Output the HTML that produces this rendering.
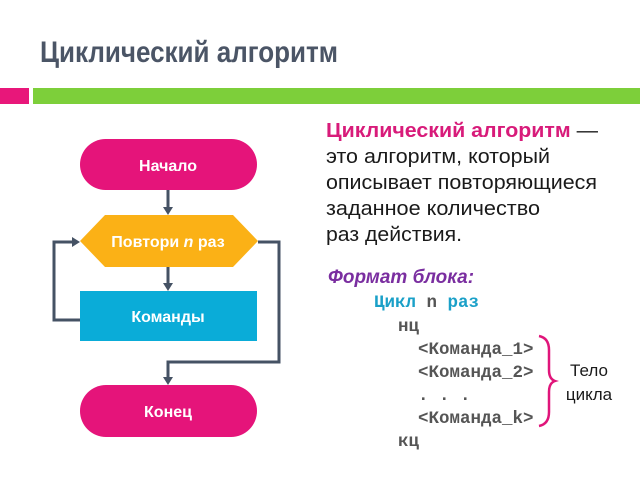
<!DOCTYPE html>
<html><head><meta charset="utf-8"><style>
body{margin:0;background:#fff;width:640px;height:480px;overflow:hidden}
</style></head><body>
<svg width="640" height="480" xmlns="http://www.w3.org/2000/svg" font-family="'Liberation Sans', sans-serif">
<text x="40" y="62" font-size="30" font-weight="bold" fill="#4b5566" textLength="298" lengthAdjust="spacingAndGlyphs">Циклический алгоритм</text>
<rect x="0" y="88" width="29" height="16" fill="#e8177a"/>
<rect x="33" y="88" width="607" height="16" fill="#7dcf3a"/>
<g stroke="#455264" stroke-width="3" fill="none">
<line x1="168" y1="190" x2="168" y2="210"/>
<line x1="168" y1="267" x2="168" y2="286"/>
<polyline points="80,320 54,320 54,242 74,242"/>
<polyline points="258,242 279,242 279,362 168,362 168,380"/>
</g>
<g fill="#455264">
<polygon points="163,207 173,207 168,215"/>
<polygon points="163,283 173,283 168,291"/>
<polygon points="72,237 72,247 80,242"/>
<polygon points="163,377 173,377 168,385"/>
</g>
<rect x="80" y="139" width="177" height="51" rx="25.5" fill="#e5147a"/>
<text x="168" y="171" font-size="16" font-weight="bold" fill="#fff" text-anchor="middle">Начало</text>
<polygon points="80,241 105,215 233,215 258,241 233,267 105,267" fill="#fbb116"/>
<text x="168" y="247" font-size="16" font-weight="bold" fill="#fff" text-anchor="middle">Повтори <tspan font-style="italic">n</tspan> раз</text>
<rect x="80" y="291" width="177" height="50" fill="#0aacd8"/>
<text x="168" y="322" font-size="16" font-weight="bold" fill="#fff" text-anchor="middle">Команды</text>
<rect x="80" y="385" width="177" height="52" rx="26" fill="#e5147a"/>
<text x="168" y="417" font-size="16" font-weight="bold" fill="#fff" text-anchor="middle">Конец</text>
<g font-size="20" fill="#1a1a1a" lengthAdjust="spacingAndGlyphs">
<text x="326" y="137" textLength="272" lengthAdjust="spacingAndGlyphs"><tspan fill="#d81b7a" font-weight="bold">Циклический алгоритм</tspan> —</text>
<text x="326" y="163" textLength="224" lengthAdjust="spacingAndGlyphs">это алгоритм, который</text>
<text x="326" y="189" textLength="271" lengthAdjust="spacingAndGlyphs">описывает повторяющиеся</text>
<text x="326" y="215" textLength="214" lengthAdjust="spacingAndGlyphs">заданное количество</text>
<text x="326" y="241" textLength="136" lengthAdjust="spacingAndGlyphs">раз действия.</text>
</g>
<text x="328" y="283" font-size="19" font-weight="bold" font-style="italic" fill="#7a2ea0">Формат блока:</text>
<g font-family="'Liberation Mono', monospace" font-size="17.5" font-weight="bold" fill="#555">
<text x="374" y="307"><tspan fill="#1aa0c8">Цикл</tspan> n <tspan fill="#1aa0c8">раз</tspan></text>
<text x="398" y="331">нц</text>
<text x="418" y="354">&lt;Команда_1&gt;</text>
<text x="418" y="377">&lt;Команда_2&gt;</text>
<text x="418" y="400">. . .</text>
<text x="418" y="423">&lt;Команда_k&gt;</text>
<text x="398" y="446">кц</text>
</g>
<path d="M539,336 Q549,338 549,350 L549,370 Q549,379 555,381 Q549,383 549,392 L549,412 Q549,424 539,426" stroke="#e0157a" stroke-width="2.5" fill="none"/>
<text x="589" y="376" font-size="17" fill="#1a1a1a" text-anchor="middle">Тело</text>
<text x="589" y="400" font-size="17" fill="#1a1a1a" text-anchor="middle">цикла</text>
</svg>
</body></html>
